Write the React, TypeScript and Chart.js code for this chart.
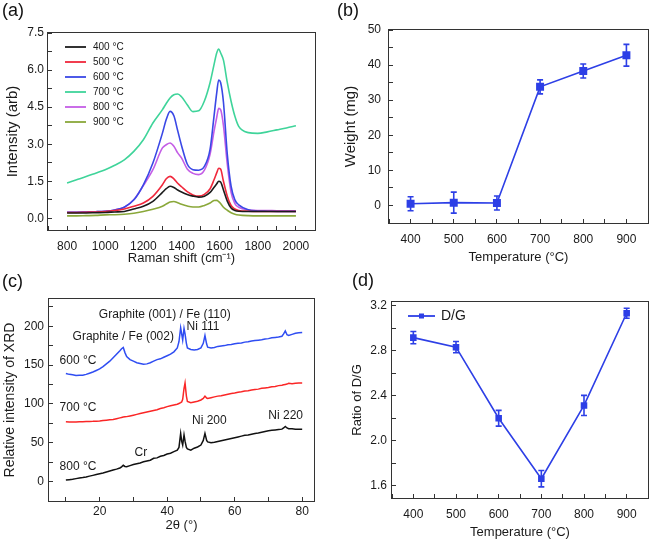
import React, { useEffect, useRef } from "react";
import { Chart, registerables } from "chart.js";

Chart.register(...registerables);

const FONT = "'Liberation Sans', Arial, Helvetica, sans-serif";

// ---------- (a) Raman spectra ----------
const ramanShift = [800, 850, 900, 950, 1000, 1050, 1100, 1150, 1200, 1250, 1300, 1320, 1340, 1360, 1380, 1400, 1430, 1460, 1490, 1520, 1550, 1570, 1585, 1595, 1605, 1620, 1640, 1660, 1680, 1700, 1750, 1800, 1850, 1900, 1950, 2000];
const raman400 = [0.22, 0.22, 0.22, 0.23, 0.24, 0.26, 0.28, 0.38, 0.49, 0.69, 1.05, 1.2, 1.3, 1.25, 1.15, 1.07, 0.97, 0.9, 0.86, 0.9, 1.05, 1.25, 1.4, 1.5, 1.47, 1.15, 0.7, 0.42, 0.32, 0.29, 0.28, 0.28, 0.28, 0.28, 0.28, 0.28];
const raman500 = [0.24, 0.24, 0.25, 0.26, 0.28, 0.32, 0.38, 0.49, 0.62, 0.89, 1.36, 1.6, 1.7, 1.6, 1.42, 1.28, 1.08, 0.95, 0.9, 0.97, 1.2, 1.55, 1.85, 2.03, 2.0, 1.5, 0.9, 0.52, 0.38, 0.32, 0.29, 0.28, 0.28, 0.28, 0.28, 0.28];
const raman600 = [0.25, 0.25, 0.26, 0.27, 0.29, 0.34, 0.45, 0.75, 1.36, 2.24, 3.45, 4.0, 4.33, 4.15, 3.55, 2.95, 2.2, 1.97, 1.95, 2.1, 2.8, 4.1, 5.1, 5.6, 5.5, 4.7, 2.6, 1.3, 0.75, 0.55, 0.35, 0.3, 0.29, 0.28, 0.28, 0.28];
const raman700 = [1.43, 1.56, 1.69, 1.83, 1.97, 2.15, 2.37, 2.71, 3.18, 3.86, 4.4, 4.65, 4.87, 5.0, 5.03, 4.92, 4.6, 4.32, 4.35, 4.75, 5.5, 6.2, 6.7, 6.85, 6.7, 6.4, 5.5, 4.74, 4.13, 3.72, 3.47, 3.44, 3.5, 3.58, 3.66, 3.75];
const raman800 = [0.25, 0.25, 0.26, 0.27, 0.29, 0.34, 0.45, 0.75, 1.33, 1.97, 2.85, 2.98, 3.05, 2.92, 2.65, 2.45, 2.0, 1.82, 1.77, 1.95, 2.6, 3.5, 4.1, 4.45, 4.4, 3.75, 2.2, 1.05, 0.6, 0.45, 0.34, 0.32, 0.32, 0.31, 0.31, 0.31];
const raman900 = [0.1, 0.1, 0.11, 0.12, 0.14, 0.15, 0.17, 0.21, 0.28, 0.37, 0.49, 0.58, 0.66, 0.68, 0.63, 0.57, 0.5, 0.46, 0.46, 0.52, 0.62, 0.72, 0.73, 0.68, 0.6, 0.45, 0.33, 0.23, 0.17, 0.14, 0.11, 0.1, 0.1, 0.1, 0.1, 0.1];
const ramanLabels = ["400 °C", "500 °C", "600 °C", "700 °C", "800 °C", "900 °C"];
const ramanColors = ["#1c1c1c", "#f0283c", "#3a48e6", "#3fd49a", "#c45ee6", "#8aa83a"];

// ---------- (b) weight ----------
const temps = [400, 500, 600, 700, 800, 900];
const weight = [0.5, 0.8, 0.7, 33.8, 38.3, 42.8];
const weightErr = [2.0, 3.0, 2.0, 2.0, 2.0, 3.1];

// ---------- (c) XRD ----------
const xrdAngle = [10, 11, 12, 13, 14, 15, 16, 17, 18, 19, 20, 21, 22, 23, 24, 25, 26, 26.5, 27, 27.5, 28, 29, 30, 31, 32, 33, 34, 35, 36, 37, 38, 39, 40, 41, 42, 43, 43.5, 44, 44.3, 44.6, 45, 45.3, 45.7, 46, 47, 48, 49, 50, 50.7, 51.2, 51.7, 52, 53, 54, 55, 56, 57, 58, 59, 60, 61, 62, 63, 64, 65, 66, 67, 68, 69, 70, 71, 72, 73, 74, 74.5, 75, 75.5, 76, 77, 78, 79, 80];
const xrd600 = [139, 138, 137.5, 136.5, 136.8, 137, 138, 139.5, 141, 143, 145, 148, 151.5, 155, 159.5, 164, 168.5, 171, 172.5, 166, 161, 157, 155, 153, 152, 151, 151.5, 153, 155, 157, 158, 160, 162, 164, 167, 172, 180, 198, 190, 182, 197, 190, 178, 172, 170, 169.5, 170, 172, 178, 188, 177, 173, 172, 172.5, 174, 174.5, 175, 176, 176.5, 177.5, 178, 178.5, 179.5, 180, 181, 181.5, 182, 182.5, 183.5, 184, 185, 185.5, 186, 187, 190, 194, 189, 188, 189.5, 191, 191.5, 192];
const xrd700 = [77, 76.8, 76.7, 76.8, 77, 77, 77.2, 77.3, 77.5, 77.8, 78, 78.5, 79, 79.5, 80, 81, 82, 82.5, 83, 83.3, 83.6, 84.5, 85.5, 86.5, 87.5, 88.5, 89.5, 90.5, 91.5, 92.5, 94, 95, 96.5, 97.5, 98.5, 99.5, 100.5, 101.5, 102.5, 106, 120, 127, 110, 103, 101.5, 102.5, 103.5, 105, 107, 110, 107.5, 107, 108, 109, 110, 110.5, 111.5, 112.5, 113.5, 114, 115, 115.5, 116.5, 117, 118, 118.5, 119, 120, 120.5, 121, 122, 122.5, 123.5, 124, 124.5, 125, 125.5, 126.5, 126, 126.5, 127, 127];
const xrd800 = [2, 2.5, 3, 3.8, 4.5, 5.2, 6, 7, 8, 9, 10, 11, 12.3, 13.5, 14.8, 16, 17.5, 19, 21, 19.5, 19, 20.5, 22, 23, 24, 25.5, 26.5, 27.5, 30, 30.5, 32.5, 33.5, 35.5, 36.5, 38.5, 40.5, 44, 62, 52, 47, 60, 52, 44, 42, 40.5, 43, 44.5, 47, 53, 62, 53, 51, 50, 50.5, 51.5, 52.5, 53.5, 54.5, 55.5, 56.5, 57.5, 58.5, 59.5, 60, 61, 62, 62.5, 63.5, 64.5, 65.5, 66, 66.5, 67, 67.5, 69, 71, 69, 68, 68, 67.5, 67.5, 67.5];
const xrdColors = ["#2f4df2", "#fa2626", "#111111"];
const xrdNotes = [
  { text: "Graphite (001) / Fe (110)", x: 39.3, y: 215 },
  { text: "Graphite / Fe (002)", x: 27.0, y: 186 },
  { text: "Ni 111", x: 50.6, y: 199 },
  { text: "600 °C", x: 13.6, y: 156 },
  { text: "700 °C", x: 13.6, y: 95 },
  { text: "800 °C", x: 13.6, y: 19 },
  { text: "Cr", x: 32.2, y: 37.6 },
  { text: "Ni 200", x: 52.5, y: 78.6 },
  { text: "Ni 220", x: 75.1, y: 84.6 },
];

// ---------- (d) D/G ratio ----------
const dgRatio = [2.918, 2.833, 2.2, 1.662, 2.314, 3.135];
const dgErr = [0.055, 0.05, 0.07, 0.073, 0.09, 0.045];

const BLUE = "#2d3fe6";

function tickCb(every: number, dec: number) {
  return (value: any) => {
    const v = Number(value);
    const r = v / every;
    return Math.abs(r - Math.round(r)) < 1e-6 ? v.toFixed(dec) : "";
  };
}

function axis(o: any) {
  return {
    type: "linear",
    position: o.pos,
    min: o.min,
    max: o.max,
    ticks: {
      stepSize: o.step,
      autoSkip: false,
      includeBounds: false,
      maxRotation: 0,
      minRotation: 0,
      padding: o.labelPad,
      color: "#1a1a1a",
      font: { family: FONT, size: 12 },
      callback: tickCb(o.every, o.dec),
    },
    grid: { drawOnChartArea: false, drawTicks: true, tickLength: -4, color: "#333", tickColor: "#333" },
    border: { display: false },
    title: {
      display: true,
      text: o.title,
      color: "#1a1a1a",
      font: { family: FONT, size: o.titleSize },
      padding: { top: o.titlePad, bottom: o.titlePad },
    },
    afterFit: (s: any) => {
      if (o.pos === "left") s.width = o.size;
      else s.height = o.size;
    },
  };
}

const framePlugin = {
  id: "frame",
  afterDatasetsDraw(chart: any) {
    const { ctx, chartArea: a } = chart;
    ctx.save();
    ctx.strokeStyle = "#333";
    ctx.lineWidth = 1;
    ctx.strokeRect(Math.round(a.left) - 0.5, Math.round(a.top) - 0.5, Math.round(a.right - a.left) + 1, Math.round(a.bottom - a.top) + 1);
    ctx.restore();
  },
};

function panelLabel(text: string, x: number, y: number) {
  return {
    id: "panelLabel",
    afterDraw(chart: any) {
      const ctx = chart.ctx;
      ctx.save();
      ctx.fillStyle = "#111";
      ctx.font = `18px ${FONT}`;
      ctx.textAlign = "left";
      ctx.textBaseline = "middle";
      ctx.fillText(text, x, y);
      ctx.restore();
    },
  };
}

const errorBarPlugin = {
  id: "errbars",
  afterDatasetsDraw(chart: any) {
    const ctx = chart.ctx;
    const ys = chart.scales.y;
    chart.data.datasets.forEach((ds: any, i: number) => {
      const errs = ds.errors;
      if (!errs) return;
      const meta = chart.getDatasetMeta(i);
      meta.data.forEach((pt: any, j: number) => {
        const v = ds.data[j].y;
        const e = errs[j];
        const x = pt.x;
        const y1 = ys.getPixelForValue(v + e);
        const y2 = ys.getPixelForValue(v - e);
        ctx.save();
        ctx.strokeStyle = ds.borderColor;
        ctx.lineWidth = 1.6;
        ctx.beginPath();
        ctx.moveTo(x, y1);
        ctx.lineTo(x, y2);
        ctx.moveTo(x - 3, y1);
        ctx.lineTo(x + 3, y1);
        ctx.moveTo(x - 3, y2);
        ctx.lineTo(x + 3, y2);
        ctx.stroke();
        ctx.restore();
      });
    });
  },
};

function lineLegend(x0: number, y0: number, dy: number, len: number, gap: number, size: number, withPoint: boolean) {
  return {
    id: "lineLegend",
    afterDraw(chart: any) {
      const ctx = chart.ctx;
      ctx.save();
      chart.data.datasets.forEach((ds: any, i: number) => {
        const y = y0 + i * dy;
        ctx.strokeStyle = ds.borderColor;
        ctx.lineWidth = 1.8;
        ctx.beginPath();
        ctx.moveTo(x0, y);
        ctx.lineTo(x0 + len, y);
        ctx.stroke();
        if (withPoint) {
          ctx.fillStyle = ds.borderColor;
          ctx.fillRect(x0 + len / 2 - 2.5, y - 2.5, 5, 5);
        }
        ctx.fillStyle = "#1a1a1a";
        ctx.font = `${size}px ${FONT}`;
        ctx.textAlign = "left";
        ctx.textBaseline = "middle";
        ctx.fillText(ds.label, x0 + len + gap, y);
      });
      ctx.restore();
    },
  };
}

const notesPlugin = {
  id: "notes",
  afterDraw(chart: any) {
    const ctx = chart.ctx;
    const xs = chart.scales.x;
    const ys = chart.scales.y;
    ctx.save();
    ctx.fillStyle = "#1a1a1a";
    ctx.font = `12px ${FONT}`;
    ctx.textAlign = "center";
    ctx.textBaseline = "middle";
    xrdNotes.forEach((n) => ctx.fillText(n.text, xs.getPixelForValue(n.x), ys.getPixelForValue(n.y)));
    ctx.restore();
  },
};

function pts(xs: number[], ys: number[]) {
  return xs.map((x, i) => ({ x, y: ys[i] }));
}

function baseOptions(top: number, right: number, scales: any) {
  return {
    responsive: false,
    animation: false,
    layout: { padding: { top, right, left: 0, bottom: 0 } },
    plugins: { legend: { display: false }, tooltip: { enabled: false } },
    scales,
  };
}

function configA() {
  const series = [raman400, raman500, raman600, raman700, raman800, raman900];
  return {
    type: "line",
    data: {
      datasets: series.map((s, i) => ({
        label: ramanLabels[i],
        data: pts(ramanShift, s),
        borderColor: ramanColors[i],
        borderWidth: 1.6,
        pointRadius: 0,
        cubicInterpolationMode: "monotone",
        fill: false,
      })),
    },
    options: baseOptions(33, 15, {
      x: axis({ pos: "bottom", min: 700, max: 2100, step: 100, every: 200, dec: 0, labelPad: 13, title: "Raman shift (cm⁻¹)", titleSize: 13, titlePad: 4, size: 40 }),
      y: axis({ pos: "left", min: -0.47, max: 7.5, step: 0.75, every: 1.5, dec: 1, labelPad: 8, title: "Intensity (arb)", titleSize: 15, titlePad: 4, size: 48 }),
    }),
    plugins: [framePlugin, panelLabel("(a)", 2, 11), lineLegend(65, 47, 15, 21, 7, 10, false)],
  };
}

function configB() {
  return {
    type: "line",
    data: {
      datasets: [
        {
          label: "Weight",
          data: pts(temps, weight),
          errors: weightErr,
          borderColor: BLUE,
          backgroundColor: BLUE,
          borderWidth: 1.6,
          pointStyle: "rect",
          pointRadius: 4.5,
          tension: 0,
        },
      ],
    },
    options: baseOptions(30, 6, {
      x: axis({ pos: "bottom", min: 350, max: 950, step: 50, every: 100, dec: 0, labelPad: 13, title: "Temperature (°C)", titleSize: 13, titlePad: 5, size: 47 }),
      y: axis({ pos: "left", min: -5, max: 50, step: 5, every: 10, dec: 0, labelPad: 12, title: "Weight (mg)", titleSize: 15, titlePad: 12, size: 59 }),
    }),
    plugins: [framePlugin, errorBarPlugin, panelLabel("(b)", 7, 11)],
  };
}

function configC() {
  const series = [xrd600, xrd700, xrd800];
  return {
    type: "line",
    data: {
      datasets: series.map((s, i) => ({
        label: ["600", "700", "800"][i],
        data: pts(xrdAngle, s),
        borderColor: xrdColors[i],
        borderWidth: 1.5,
        pointRadius: 0,
        tension: 0,
      })),
    },
    options: baseOptions(29, 16, {
      x: axis({ pos: "bottom", min: 5, max: 83.5, step: 10, every: 20, dec: 0, labelPad: 7, title: "2θ (°)", titleSize: 13, titlePad: 8, size: 40 }),
      y: axis({ pos: "left", min: -25, max: 235, step: 25, every: 50, dec: 0, labelPad: 9, title: "Relative intensity of XRD", titleSize: 14, titlePad: 1.5, size: 49 }),
    }),
    plugins: [framePlugin, notesPlugin, panelLabel("(c)", 2, 12)],
  };
}

function configD() {
  return {
    type: "line",
    data: {
      datasets: [
        {
          label: "D/G",
          data: pts(temps, dgRatio),
          errors: dgErr,
          borderColor: BLUE,
          backgroundColor: BLUE,
          borderWidth: 1.6,
          pointStyle: "rect",
          pointRadius: 3.5,
          tension: 0,
        },
      ],
    },
    options: baseOptions(32, 5, {
      x: axis({ pos: "bottom", min: 350, max: 950, step: 50, every: 100, dec: 0, labelPad: 13, title: "Temperature (°C)", titleSize: 13, titlePad: 1, size: 43 }),
      y: axis({ pos: "left", min: 1.49, max: 3.235, step: 0.2, every: 0.4, dec: 1, labelPad: 9, title: "Ratio of D/G", titleSize: 13, titlePad: 20, size: 62 }),
    }),
    plugins: [framePlugin, errorBarPlugin, panelLabel("(d)", 22, 11), lineLegend(78, 46, 15, 27, 6, 14, true)],
  };
}

function Panel({ left, top, width, height, build }: any) {
  const ref = useRef<HTMLCanvasElement>(null);
  useEffect(() => {
    const chart = new Chart(ref.current as HTMLCanvasElement, build() as any);
    return () => chart.destroy();
  }, []);
  return (
    <canvas
      ref={ref}
      width={width}
      height={height}
      style={{ position: "absolute", left, top, width, height, display: "block" }}
    />
  );
}

export default function App() {
  useEffect(() => {
    document.body.style.margin = "0";
  }, []);
  return (
    <div style={{ position: "absolute", left: 0, top: 0, width: 661, height: 541, background: "#fff", overflow: "hidden" }}>
      <Panel left={0} top={0} width={330} height={270} build={configA} />
      <Panel left={330} top={0} width={331} height={270} build={configB} />
      <Panel left={0} top={270} width={330} height={271} build={configC} />
      <Panel left={330} top={270} width={331} height={271} build={configD} />
    </div>
  );
}
